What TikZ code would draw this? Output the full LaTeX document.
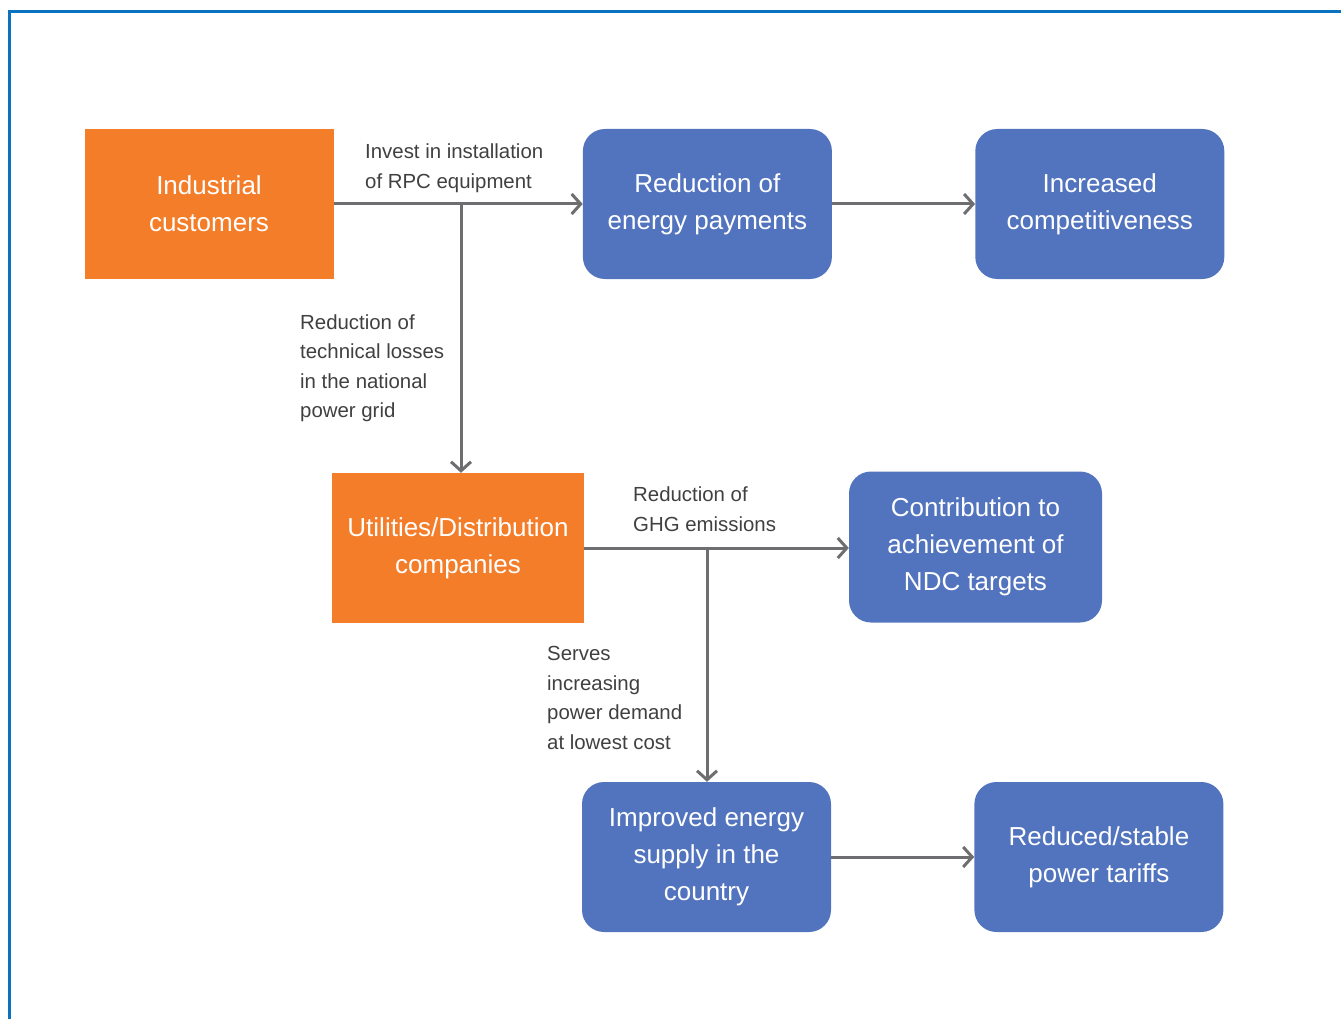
\documentclass[tikz,border=0pt]{standalone}
\usepackage{fontspec}
\setmainfont{Liberation Sans}
\definecolor{rpcorange}{HTML}{F47D2A}
\definecolor{rpcblue}{HTML}{5274BE}
\definecolor{rpcgray}{HTML}{6E6E70}
\definecolor{rpctext}{HTML}{404040}
\definecolor{rpcframe}{HTML}{0A72C0}
\usetikzlibrary{positioning,arrows.meta}

\begin{document}
\begin{tikzpicture}[
  x=1pt, y=-1pt,
  node distance=195pt and 143pt,
  actor/.style={fill=rpcorange, text=white, minimum width=249pt, minimum height=150pt,
                font=\fontsize{26}{37}\selectfont, align=center},
  outcome/.style={fill=rpcblue, text=white, rounded corners=22pt,
                  minimum width=249pt, minimum height=150pt,
                  font=\fontsize{26}{37}\selectfont, align=center},
  lbl/.style={text=rpctext, font=\fontsize{20.4}{29.5}\selectfont, align=left,
              anchor=west, inner sep=0pt},
  arrow/.style={-{Straight Barb[length=9pt,width=20pt]}, line width=3pt, rpcgray}
]
  \useasboundingbox (0,0) rectangle (1341,1019);
  % frame
  \draw[rpcframe, line width=3pt] (1341,12) -- (9,12) -- (9,1019);

  % boxes
  \node[actor] (ind) at (209,204) {Industrial\\customers};
  \node[outcome, right=249pt of ind] (pay) {Reduction of\\energy payments};
  \node[outcome, right=of pay] (comp) {Increased\\competitiveness};
  \node[actor, minimum width=252pt] (util) at (458,548) {Utilities/Distribution\\companies};
  \node[outcome, minimum width=253pt, minimum height=151pt] (ndc) at (975.5,547)
    {Contribution to\\achievement of\\NDC targets};
  \node[outcome] (supply) at (706.5,857) {Improved energy\\supply in the\\country};
  \node[outcome, right=of supply] (tariff) {Reduced/stable\\power tariffs};

  % branch points
  \coordinate (b1) at (461,204);
  \coordinate (b2) at (707,548);

  % forward path
  \draw[arrow] (ind) -- (pay);
  \draw[arrow] (pay) -- (comp);
  \draw[arrow] (b1) -- (b1 |- util.north);
  \draw[arrow] (util) -- (util -| ndc.west);
  \draw[arrow] (b2) -- (b2 |- supply.north);
  \draw[arrow] (supply) -- (tariff);

  % labels
  \node[lbl] (l1) at (365,168) {Invest in installation\\of RPC equipment};
  \node[lbl] (l2) at (300,368) {Reduction of\\technical losses\\in the national\\power grid};
  \node[lbl] (l3) at (633,509) {Reduction of\\GHG emissions};
  \node[lbl] (l4) at (547,698) {Serves\\increasing\\power demand\\at lowest cost};
\end{tikzpicture}
\end{document}
